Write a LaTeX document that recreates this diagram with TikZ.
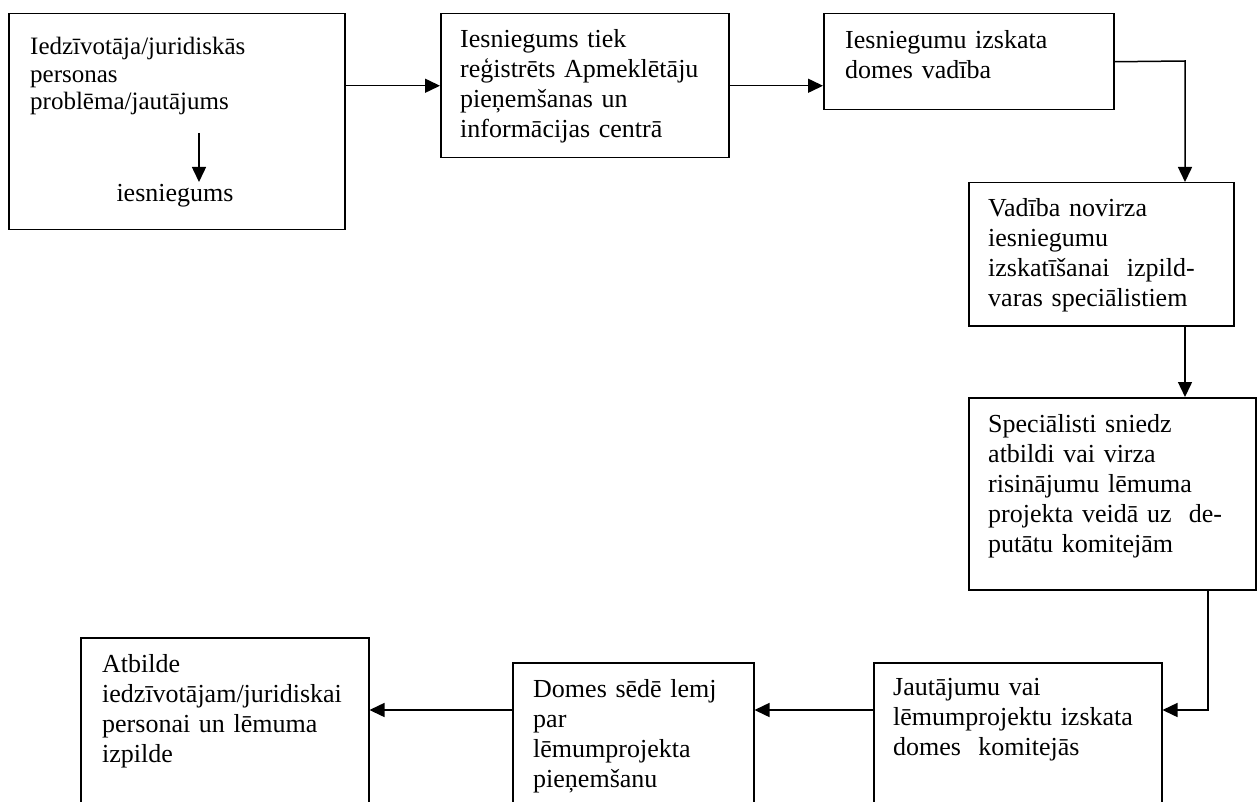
\documentclass[tikz,border=0pt]{standalone}
\usepackage{fontspec}
\setmainfont{Liberation Serif}
\usetikzlibrary{arrows.meta}
\begin{document}
\begin{tikzpicture}[x=1pt,y=-1pt,
  box/.style={draw, line width=1.5pt, anchor=north west, inner sep=0pt},
  txt/.style={anchor=base west, inner sep=0pt, text width=330pt, align=left, font=\fontsize{26}{30}\selectfont},
  arr/.style={line width=1.5pt, -{Triangle[length=15pt,width=14pt]}},
  lin/.style={line width=1.5pt}]
\useasboundingbox (0,0) rectangle (1257,802);
\clip (0,0) rectangle (1257,802);
% boxes
\node[box, minimum width=336pt, minimum height=216pt] (b1) at (8,13) {};
\node[box, minimum width=288pt, minimum height=144pt] (b2) at (440,13) {};
\node[box, minimum width=290pt, minimum height=96pt] (b3) at (823,13) {};
\node[box, minimum width=265pt, minimum height=143pt] (b4) at (968,182) {};
\node[box, minimum width=287pt, minimum height=192pt] (b5) at (968,397) {};
\node[box, minimum width=288pt, minimum height=200pt] (b6) at (873,662) {};
\node[box, minimum width=241pt, minimum height=200pt] (b7) at (512,662) {};
\node[box, minimum width=288pt, minimum height=220pt] (b8) at (80,637) {};
% texts
\node[txt, font=\fontsize{25}{27.5}\selectfont] (t1) at (30,55) {Iedzīvotāja/juridiskās\\personas\\problēma/jautājums};
\node[anchor=base, inner sep=0pt, font=\fontsize{26}{30}\selectfont] (ies) at (175,202) {iesniegums};
\node[txt] (t2) at (460,48) {Iesniegums tiek\\reģistrēts Apmeklētāju\\pieņemšanas un\\informācijas centrā};
\node[txt] (t3) at (845,49) {Iesniegumu izskata\\domes vadība};
\node[txt] (t4) at (988,217) {Vadība novirza\\iesniegumu\\izskatīšanai~ izpild-\\varas speciālistiem};
\node[txt] (t5) at (988,432) {Speciālisti sniedz\\atbildi vai virza\\risinājumu lēmuma\\projekta veidā uz~ de-\\putātu komitejām};
\node[txt] (t6) at (893,695) {Jautājumu vai\\lēmumprojektu izskata\\domes~ komitejās};
\node[txt] (t7) at (533,697) {Domes sēdē lemj\\par\\lēmumprojekta\\pieņemšanu};
\node[txt] (t8) at (102,672) {Atbilde\\iedzīvotājam/juridiskai\\personai un lēmuma\\izpilde};
% inner arrow
\coordinate (p1) at (199,133);
\coordinate (p2) at (199,182);
\draw[arr] (p1) -- (p2);
% connectors
\coordinate (k1) at (1185,61);
\coordinate (k2) at (1208,710);
\draw[arr] (b1.east |- b2.west) -- (b2.west);
\draw[arr] (b2.east) -- (b2.east -| b3.west);
\draw[arr] (b3.east) -- (k1) -- (k1 |- b4.north);
\draw[arr] (b4.south -| k1) -- (b5.north -| k1);
\draw[arr] (b5.south -| k2) -- (k2) -- (k2 -| b6.east);
\draw[arr] (b6.west |- k2) -- (b7.east |- k2);
\draw[arr] (b7.west |- k2) -- (b8.east |- k2);
\end{tikzpicture}
\end{document}
